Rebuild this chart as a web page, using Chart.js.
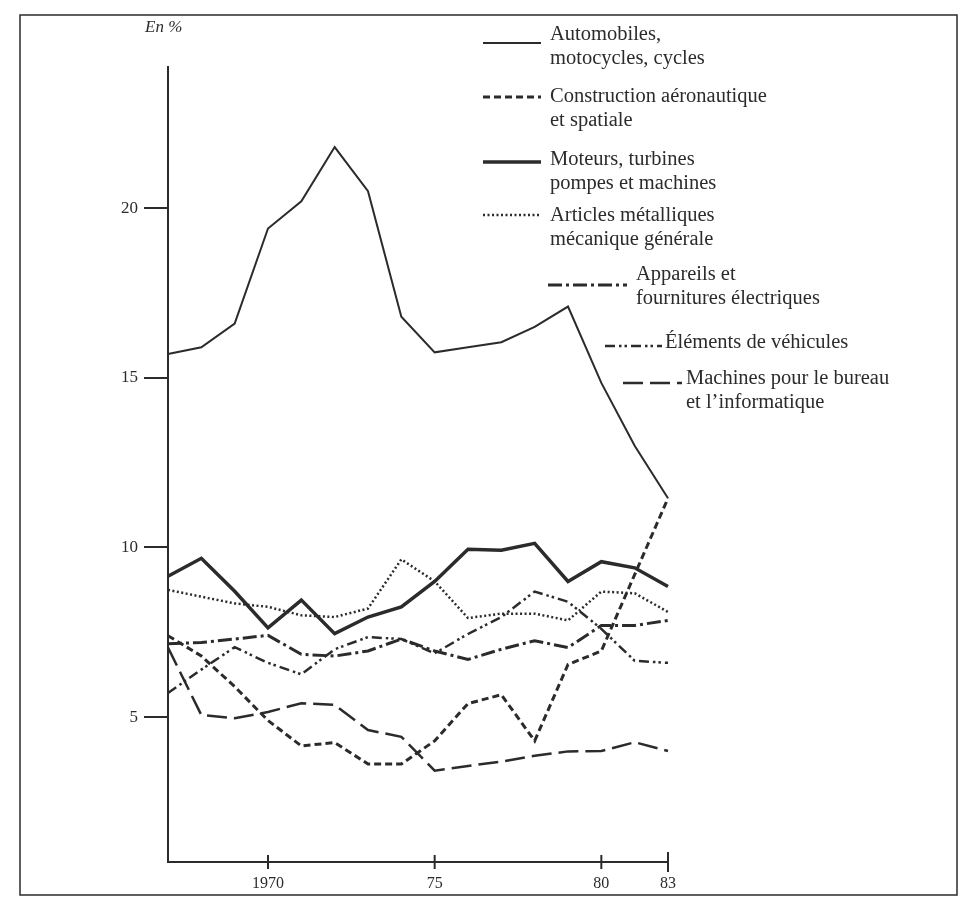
<!DOCTYPE html>
<html>
<head>
<meta charset="utf-8">
<script src="https://cdn.jsdelivr.net/npm/chart.js@4.4.1/dist/chart.umd.min.js"></script>
<style>
  body { margin: 0; background: #fff; }
  #wrap { width: 964px; height: 912px; position: relative; }
</style>
</head>
<body>
<div id="wrap"><canvas id="grafico" width="964" height="912"></canvas></div>
<script>
// etiquetas del eje x (solo algunas visibles)
var xLabels = ['', '', '', '1970', '', '', '', '', '75', '', '', '', '', '80', '', '83'];
var yTicks = [5, 10, 15, 20];

var automobiles  = [15.7, 15.9, 16.6, 19.4, 20.2, 21.8, 20.5, 16.8, 15.75, 15.9, 16.05, 16.5, 17.1, 14.85, 13.0, 11.45];
var aeronautique = [7.4, 6.8, 5.9, 4.9, 4.15, 4.25, 3.62, 3.62, 4.3, 5.4, 5.66, 4.3, 6.55, 6.95, 9.2, 11.45];
var moteurs      = [9.15, 9.68, 8.71, 7.63, 8.45, 7.46, 7.95, 8.25, 9.0, 9.95, 9.92, 10.12, 9.0, 9.58, 9.4, 8.85];
var articles     = [8.75, 8.55, 8.35, 8.25, 8.0, 7.95, 8.2, 9.65, 9.0, 7.92, 8.05, 8.05, 7.85, 8.7, 8.65, 8.1];
var appareils    = [7.16, 7.2, 7.3, 7.41, 6.85, 6.8, 6.95, 7.3, 6.95, 6.7, 7.0, 7.25, 7.05, 7.7, 7.7, 7.85];
var elements     = [5.71, 6.4, 7.06, 6.6, 6.26, 7.0, 7.36, 7.3, 6.88, 7.45, 7.95, 8.7, 8.4, 7.6, 6.66, 6.6];
var machines     = [7.05, 5.06, 4.97, 5.15, 5.41, 5.36, 4.62, 4.42, 3.42, 3.56, 3.69, 3.86, 3.99, 4.0, 4.26, 4.0];

var tinta = '#2b2b2b';
var serif = '"Liberation Serif", "DejaVu Serif", serif';

function serie(label, data, width, dash) {
  return {
    label: label,
    data: data,
    borderColor: tinta,
    borderWidth: width,
    borderDash: dash,
    pointRadius: 0,
    tension: 0,
    fill: false
  };
}

// leyenda dibujada a mano: linea + texto en dos renglones
var leyenda = [
  { x1: 483, x2: 541, y: 43,  w: 2,   dash: [],                 tx: 550, ty: 35,  lines: ['Automobiles,', 'motocycles, cycles'] },
  { x1: 483, x2: 541, y: 97,  w: 3,   dash: [7, 4],             tx: 550, ty: 97,  lines: ['Construction aéronautique', 'et spatiale'] },
  { x1: 483, x2: 541, y: 162, w: 3.5, dash: [],                 tx: 550, ty: 160, lines: ['Moteurs, turbines', 'pompes et machines'] },
  { x1: 483, x2: 541, y: 215, w: 2.5, dash: [2, 2.5],           tx: 550, ty: 216, lines: ['Articles métalliques', 'mécanique générale'] },
  { x1: 548, x2: 627, y: 285, w: 3,   dash: [14, 4, 3, 4],      tx: 636, ty: 275, lines: ['Appareils et', 'fournitures électriques'] },
  { x1: 605, x2: 662, y: 346, w: 2.5, dash: [10, 4, 2.5, 3, 2.5, 4], tx: 665, ty: 343, lines: ['Éléments de véhicules'] },
  { x1: 623, x2: 682, y: 383, w: 2.5, dash: [20, 7],            tx: 686, ty: 379, lines: ['Machines pour le bureau', 'et l\u2019informatique'] }
];

var extras = {
  id: 'extras',
  afterDatasetsDraw: function(chart) {
    var ctx = chart.ctx;
    var xs = chart.scales.x;
    var bottom = chart.chartArea.bottom;
    ctx.save();
    ctx.strokeStyle = tinta;
    ctx.fillStyle = tinta;

    // marcas del eje x que cruzan la linea
    xs.ticks.forEach(function(t, i) {
      if (!xLabels[i]) return;
      var px = xs.getPixelForTick(i);
      var h = (i === xLabels.length - 1) ? 10 : 7;
      ctx.lineWidth = 2;
      ctx.setLineDash([]);
      ctx.beginPath();
      ctx.moveTo(px, bottom - h);
      ctx.lineTo(px, bottom + h);
      ctx.stroke();
    });

    // "En %"
    ctx.font = 'italic 17px ' + serif;
    ctx.textBaseline = 'middle';
    ctx.textAlign = 'left';
    ctx.fillText('En %', 145, 28);

    // leyenda
    ctx.font = '20.5px ' + serif;
    leyenda.forEach(function(l) {
      ctx.lineWidth = l.w;
      ctx.setLineDash(l.dash);
      ctx.beginPath();
      ctx.moveTo(l.x1, l.y);
      ctx.lineTo(l.x2, l.y);
      ctx.stroke();
      l.lines.forEach(function(s, k) {
        ctx.fillText(s, l.tx, l.ty + k * 24);
      });
    });

    // marco de la figura
    ctx.setLineDash([]);
    ctx.lineWidth = 1.5;
    ctx.strokeRect(20, 15, 937, 880);
    ctx.restore();
  }
};

var chart = new Chart(document.getElementById('grafico').getContext('2d'), {
  type: 'line',
  data: {
    labels: xLabels,
    datasets: [
      serie('Automobiles, motocycles, cycles', automobiles, 2, []),
      serie('Construction aéronautique et spatiale', aeronautique, 3, [7, 4]),
      serie('Moteurs, turbines pompes et machines', moteurs, 3.5, []),
      serie('Articles métalliques mécanique générale', articles, 2.5, [2, 2.5]),
      serie('Appareils et fournitures électriques', appareils, 3, [14, 4, 3, 4]),
      serie('Éléments de véhicules', elements, 2.5, [10, 4, 2.5, 3, 2.5, 4]),
      serie('Machines pour le bureau et l\u2019informatique', machines, 2.5, [20, 7])
    ]
  },
  options: {
    responsive: false,
    animation: false,
    devicePixelRatio: 1,
    layout: { padding: { top: 67, right: 296, bottom: 0, left: 0 } },
    plugins: { legend: { display: false }, tooltip: { enabled: false } },
    scales: {
      x: {
        type: 'category',
        offset: false,
        border: { color: tinta, width: 2 },
        grid: { drawOnChartArea: false, drawTicks: false },
        ticks: {
          autoSkip: false, maxRotation: 0, padding: 12,
          color: tinta, font: { family: serif, size: 16 }
        },
        afterFit: function(s) { s.height = 50; }
      },
      y: {
        min: 0.73,
        max: 24.16,
        border: { color: tinta, width: 2 },
        grid: { drawOnChartArea: false, tickLength: 24, color: tinta, lineWidth: 2 },
        ticks: { padding: 6, color: tinta, font: { family: serif, size: 17 } },
        afterBuildTicks: function(s) {
          s.ticks = yTicks.map(function(v) { return { value: v }; });
        },
        afterFit: function(s) { s.width = 168; }
      }
    }
  },
  plugins: [extras]
});
</script>
</body>
</html>
